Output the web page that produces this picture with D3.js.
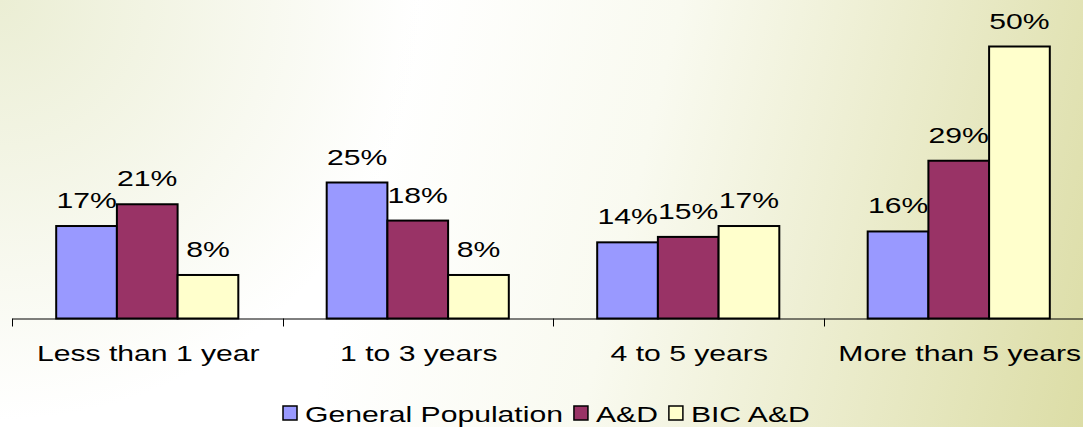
<!DOCTYPE html>
<html>
<head>
<meta charset="utf-8">
<script src="https://cdn.jsdelivr.net/npm/d3@7"></script>
<style>
html,body{margin:0;padding:0;overflow:hidden;background:#fff;}
svg{display:block;}
text{font-family:"Liberation Sans",Arial,sans-serif;font-size:22px;fill:#000;}
</style>
</head>
<body>
<svg id="chart" width="1083" height="427"></svg>
<script>
const categories = ["Less than 1 year", "1 to 3 years", "4 to 5 years", "More than 5 years"];
const seriesNames = ["General Population", "A&D", "BIC A&D"];
const generalPopulation = [17, 25, 14, 16];
const aAndD = [21, 18, 15, 29];
const bicAAndD = [8, 8, 17, 50];
const seriesColors = ["#9999FF", "#993366", "#FFFFCC"];

const seriesValues = [generalPopulation, aAndD, bicAAndD];
const W = 1083, H = 427;
const SX = 1.37;
const svg = d3.select("#chart");
const defs = svg.append("defs");

// background
const lg = defs.append("linearGradient").attr("id","bg1").attr("gradientUnits","userSpaceOnUse")
  .attr("x1",350).attr("y1",250).attr("x2",1083).attr("y2",427);
lg.append("stop").attr("offset",0).attr("stop-color","#ffffff");
lg.append("stop").attr("offset",0.35).attr("stop-color","#f9faf0");
lg.append("stop").attr("offset",1).attr("stop-color","#dcdda6");
const rg = defs.append("radialGradient").attr("id","bg2").attr("gradientUnits","userSpaceOnUse")
  .attr("cx",0).attr("cy",0).attr("r",420);
rg.append("stop").attr("offset",0).attr("stop-color","#ebeed4").attr("stop-opacity",1);
rg.append("stop").attr("offset",1).attr("stop-color","#ebeed4").attr("stop-opacity",0);
svg.append("rect").attr("width",W).attr("height",H).attr("fill","url(#bg1)");
svg.append("rect").attr("width",W).attr("height",H).attr("fill","url(#bg2)");

const baseY = 318.5;
const y = d3.scaleLinear().domain([0, 50]).range([baseY, 46.5]);
const x0 = d3.scaleBand().domain(categories).range([12, 1094]).paddingInner(0).paddingOuter(0);
const x1 = d3.scaleBand().domain(seriesNames).range([0, x0.bandwidth()]).paddingInner(0).paddingOuter(0.728);

const data = [];
categories.forEach((c, ci) => {
  seriesNames.forEach((s, si) => {
    data.push({cat: c, series: s, value: seriesValues[si][ci], color: seriesColors[si]});
  });
});

const g = svg.append("g");
g.selectAll("rect.bar").data(data).join("rect")
  .attr("class","bar")
  .attr("x", d => x0(d.cat) + x1(d.series))
  .attr("y", d => y(d.value))
  .attr("width", x1.bandwidth())
  .attr("height", d => baseY - y(d.value))
  .attr("fill", d => d.color)
  .attr("stroke", "#000")
  .attr("stroke-width", 2);

g.selectAll("text.lbl").data(data).join("text")
  .attr("class","lbl")
  .attr("text-anchor","middle")
  .attr("transform", d => `translate(${x0(d.cat) + x1(d.series) + x1.bandwidth()/2},${y(d.value) - 18}) scale(${SX},1)`)
  .text(d => d.value + "%");

// axis
const axis = d3.axisBottom(x0).tickSize(0).tickFormat("");
const ax = svg.append("g").attr("transform", `translate(0,${baseY})`).call(axis);
ax.select(".domain").attr("stroke","#000").attr("stroke-width",1);
const boundaries = categories.map(c => x0(c)).concat([x0.range()[1]]);
ax.selectAll("line.tk").data(boundaries).join("line").attr("class","tk")
  .attr("x1", d => Math.round(d) + 0.5).attr("x2", d => Math.round(d) + 0.5)
  .attr("y1", 0).attr("y2", 8).attr("stroke","#000").attr("stroke-width",1);

svg.selectAll("text.cat").data(categories).join("text")
  .attr("class","cat")
  .attr("text-anchor","middle")
  .attr("transform", d => `translate(${x0(d) + x0.bandwidth()/2 + 1},361) scale(${SX},1)`)
  .text(d => d);

// legend
const leg = svg.append("g");
let lx = 283;
seriesNames.forEach((s, i) => {
  leg.append("rect").attr("x", lx).attr("y", 406).attr("width", 14).attr("height", 14)
    .attr("fill", seriesColors[i]).attr("stroke","#000").attr("stroke-width",1.5);
  const t = leg.append("text").attr("transform", `translate(${lx + 22},422) scale(${SX},1)`).text(s);
  const w = t.node().getComputedTextLength() * SX;
  lx = lx + 22 + w + 11;
});
</script>
</body>
</html>
